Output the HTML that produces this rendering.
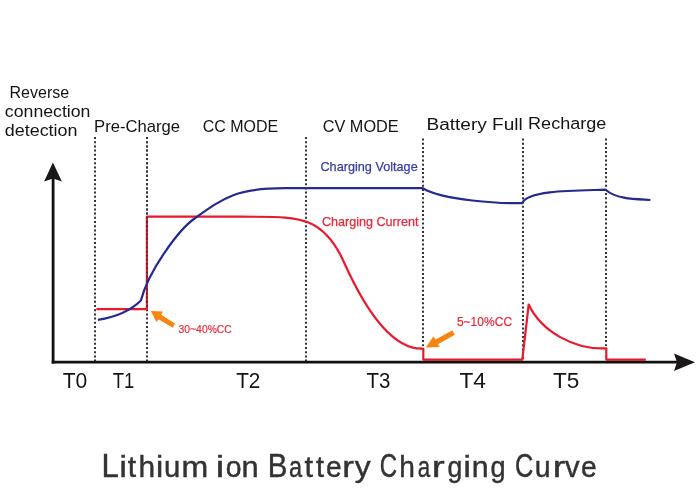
<!DOCTYPE html>
<html><head><meta charset="utf-8"><style>html,body{margin:0;padding:0;background:#fff;}svg{display:block;will-change:transform;}</style></head>
<body><svg width="700" height="500" viewBox="0 0 700 500">
<rect width="700" height="500" fill="#fff"/>
<g font-family="'Liberation Sans', sans-serif"><text x="9.46" y="97.8" font-size="16.7" fill="#151313" textLength="59.71" lengthAdjust="spacingAndGlyphs">Reverse</text>
<text x="4.88" y="116.9" font-size="17" fill="#151313" textLength="85.58" lengthAdjust="spacingAndGlyphs">connection</text>
<text x="4.86" y="135.9" font-size="17" fill="#151313" textLength="72.61" lengthAdjust="spacingAndGlyphs">detection</text>
<text x="94.03" y="132" font-size="17" fill="#151313" textLength="86.10" lengthAdjust="spacingAndGlyphs">Pre-Charge</text>
<text x="202.80" y="132.2" font-size="16.9" fill="#151313" textLength="75.45" lengthAdjust="spacingAndGlyphs">CC MODE</text>
<text x="322.75" y="132.2" font-size="16.9" fill="#151313" textLength="75.90" lengthAdjust="spacingAndGlyphs">CV MODE</text>
<text x="426.48" y="130.1" font-size="17.3" fill="#151313" textLength="96.30" lengthAdjust="spacingAndGlyphs">Battery Full</text>
<text x="528.09" y="129.4" font-size="17.4" fill="#151313" textLength="78.30" lengthAdjust="spacingAndGlyphs">Recharge</text>
<text x="62.65" y="388.4" font-size="22.5" fill="#151313" textLength="24.56" lengthAdjust="spacingAndGlyphs">T0</text>
<text x="112.83" y="388.4" font-size="22.5" fill="#151313" textLength="21.46" lengthAdjust="spacingAndGlyphs">T1</text>
<text x="236.15" y="388.4" font-size="22.5" fill="#151313" textLength="24.22" lengthAdjust="spacingAndGlyphs">T2</text>
<text x="366.42" y="388.4" font-size="22.5" fill="#151313" textLength="23.86" lengthAdjust="spacingAndGlyphs">T3</text>
<text x="459.49" y="388.4" font-size="22.5" fill="#151313" textLength="26.42" lengthAdjust="spacingAndGlyphs">T4</text>
<text x="552.94" y="388.4" font-size="22.5" fill="#151313" textLength="26.32" lengthAdjust="spacingAndGlyphs">T5</text>
<text x="320.44" y="170.9" font-size="13" fill="#3a3ea0" stroke="#3a3ea0" stroke-width="0.25" textLength="97.25" lengthAdjust="spacingAndGlyphs">Charging Voltage</text>
<text x="321.93" y="225.8" font-size="13" fill="#e8283a" stroke="#e8283a" stroke-width="0.25" textLength="96.59" lengthAdjust="spacingAndGlyphs">Charging Current</text>
<text x="178.56" y="333.3" font-size="11.5" fill="#e8283a" stroke="#e8283a" stroke-width="0.2" textLength="53.26" lengthAdjust="spacingAndGlyphs">30~40%CC</text>
<text x="456.88" y="326.1" font-size="12.3" fill="#e8283a" stroke="#e8283a" stroke-width="0.2" textLength="55.21" lengthAdjust="spacingAndGlyphs">5~10%CC</text></g>
<g font-family="'Liberation Sans', sans-serif" fill="#333" stroke="#333" stroke-width="0.45"><text x="101.59" y="476.7" font-size="33" textLength="17.37" lengthAdjust="spacingAndGlyphs">L</text><text x="119.47" y="476.7" font-size="30" textLength="7.36" lengthAdjust="spacingAndGlyphs">i</text><text x="127.70" y="476.7" font-size="30" textLength="8.35" lengthAdjust="spacingAndGlyphs">t</text><text x="138.60" y="476.7" font-size="30" textLength="16.60" lengthAdjust="spacingAndGlyphs">h</text><text x="155.90" y="476.7" font-size="30" textLength="7.25" lengthAdjust="spacingAndGlyphs">i</text><text x="163.92" y="476.7" font-size="30" textLength="16.24" lengthAdjust="spacingAndGlyphs">u</text><text x="181.49" y="476.7" font-size="30" textLength="26.73" lengthAdjust="spacingAndGlyphs">m</text><text x="215.83" y="476.7" font-size="30" textLength="8.50" lengthAdjust="spacingAndGlyphs">i</text><text x="225.69" y="476.7" font-size="30" textLength="15.74" lengthAdjust="spacingAndGlyphs">o</text><text x="241.57" y="476.7" font-size="30" textLength="17.15" lengthAdjust="spacingAndGlyphs">n</text><text x="267.80" y="476.7" font-size="33" textLength="19.63" lengthAdjust="spacingAndGlyphs">B</text><text x="289.03" y="476.7" font-size="30" textLength="13.09" lengthAdjust="spacingAndGlyphs">a</text><text x="304.52" y="476.7" font-size="30" textLength="8.56" lengthAdjust="spacingAndGlyphs">t</text><text x="316.04" y="476.7" font-size="30" textLength="8.10" lengthAdjust="spacingAndGlyphs">t</text><text x="325.89" y="476.7" font-size="30" textLength="15.69" lengthAdjust="spacingAndGlyphs">e</text><text x="342.37" y="476.7" font-size="30" textLength="11.70" lengthAdjust="spacingAndGlyphs">r</text><text x="354.66" y="476.7" font-size="30" textLength="15.85" lengthAdjust="spacingAndGlyphs">y</text><text x="379.77" y="476.7" font-size="33" textLength="17.32" lengthAdjust="spacingAndGlyphs">C</text><text x="399.18" y="476.7" font-size="30" textLength="15.65" lengthAdjust="spacingAndGlyphs">h</text><text x="417.75" y="476.7" font-size="30" textLength="12.44" lengthAdjust="spacingAndGlyphs">a</text><text x="431.72" y="476.7" font-size="30" textLength="12.94" lengthAdjust="spacingAndGlyphs">r</text><text x="447.60" y="476.7" font-size="30" textLength="14.79" lengthAdjust="spacingAndGlyphs">g</text><text x="463.60" y="476.7" font-size="30" textLength="7.38" lengthAdjust="spacingAndGlyphs">i</text><text x="471.86" y="476.7" font-size="30" textLength="16.86" lengthAdjust="spacingAndGlyphs">n</text><text x="490.55" y="476.7" font-size="30" textLength="15.06" lengthAdjust="spacingAndGlyphs">g</text><text x="515.10" y="476.7" font-size="33" textLength="18.33" lengthAdjust="spacingAndGlyphs">C</text><text x="534.76" y="476.7" font-size="30" textLength="15.84" lengthAdjust="spacingAndGlyphs">u</text><text x="552.87" y="476.7" font-size="30" textLength="12.46" lengthAdjust="spacingAndGlyphs">r</text><text x="564.98" y="476.7" font-size="30" textLength="14.58" lengthAdjust="spacingAndGlyphs">v</text><text x="581.07" y="476.7" font-size="30" textLength="15.69" lengthAdjust="spacingAndGlyphs">e</text></g>
<line x1="95" y1="137" x2="95" y2="361" stroke="#333" stroke-width="2" stroke-dasharray="2 2.2"/>
<line x1="147" y1="137" x2="147" y2="361" stroke="#333" stroke-width="2" stroke-dasharray="2 2.2"/>
<line x1="306" y1="137" x2="306" y2="361" stroke="#333" stroke-width="2" stroke-dasharray="2 2.2"/>
<line x1="423" y1="138.5" x2="423" y2="346" stroke="#333" stroke-width="2" stroke-dasharray="2 2.2"/>
<line x1="523" y1="138.5" x2="523" y2="361" stroke="#333" stroke-width="2" stroke-dasharray="2 2.2"/>
<line x1="606" y1="138.5" x2="606" y2="346" stroke="#333" stroke-width="2" stroke-dasharray="2 2.2"/>
<path d="M96.4 309.1 L146.9 309.1 L146.9 216.7 L240 216.6 C292.73 217.56 321.12 211.40 343.98 262.21 C358.65 294.84 386.63 350.12 423.00 348.60 L423.3 348.6 L423.3 359.6 L522.3 359.6 L528.7 304.5 C541.46 331.84 574.69 349.54 605.00 348.40 L606.3 348.4 L606.3 359.6 L645.8 359.6" fill="none" stroke="#e8192b" stroke-width="2.2" stroke-linejoin="round"/>
<line x1="147" y1="137" x2="147" y2="309" stroke="#333" stroke-width="2" stroke-dasharray="2 2.2" opacity="0.8"/>
<path d="M97.9 319.9 C113.78 317.41 129.51 311.74 140.90 300.50 C148.76 269.96 178.98 229.64 194.18 218.74 C225.05 196.60 237.14 188.20 285.00 188.20 L422.7 188.2 C442.77 200.45 501.66 203.74 522.20 203.10 C527.81 189.59 580.21 190.57 605.60 189.70 C616.72 199.63 637.42 199.15 650.40 200.00" fill="none" stroke="#252a8e" stroke-width="2.2" stroke-linejoin="round"/>
<line x1="53.1" y1="363.6" x2="53.1" y2="178" stroke="#121010" stroke-width="2.8"/>
<line x1="51.7" y1="362.1" x2="678" y2="362.1" stroke="#121010" stroke-width="2.9"/>
<polygon points="52.9,162.4 61.9,181.6 53,178.5 44.1,181.6" fill="#1a1717"/>
<polygon points="695,362.3 674,371 677,362.3 674,353.5" fill="#1a1717"/>
<polygon points="150.8,311 163,311.5 161.2,314.8 175,323.5 172.8,327.8 158.8,319.5 156.2,321.8" fill="#f5860f"/>
<polygon points="425.8,347.4 433.4,336.4 435.6,339.4 452.4,330.3 454.8,334.8 438,344.3 439.6,347" fill="#f5860f"/>
</svg></body></html>
